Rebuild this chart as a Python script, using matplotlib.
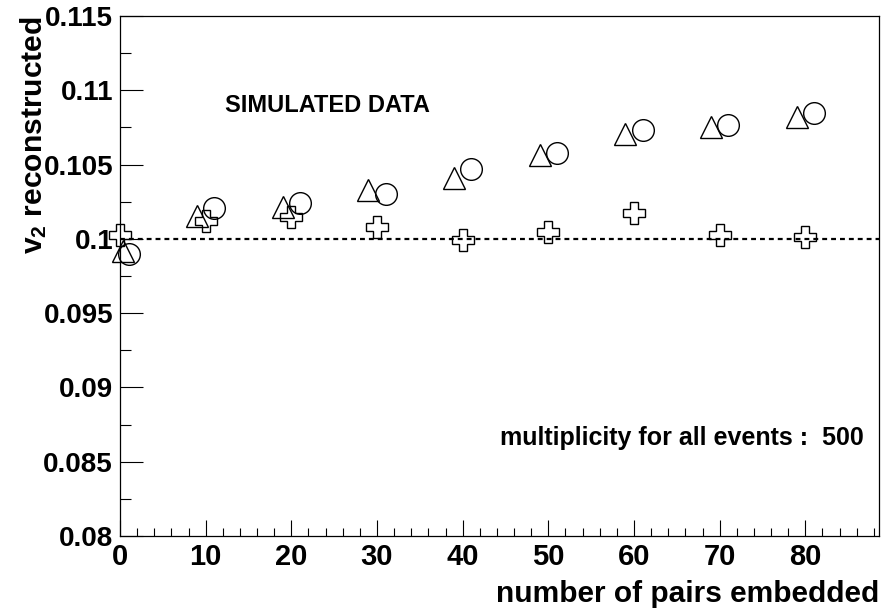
import numpy as np
import matplotlib
matplotlib.use('Agg')
import matplotlib.pyplot as plt


plt.rcParams['font.family'] = ['Liberation Sans', 'DejaVu Sans']
plt.rcParams['font.weight'] = 'bold'
plt.rcParams['mathtext.fontset'] = 'custom'
plt.rcParams['mathtext.rm'] = 'Liberation Sans:bold'
plt.rcParams['mathtext.it'] = 'Liberation Sans:bold'
plt.rcParams['mathtext.bf'] = 'Liberation Sans:bold'

#--data--#
npairs = [0, 10, 20, 30, 40, 50, 60, 70, 80]

# triangles (drawn 1 left of the nominal value)
tri_x = [0.4, 9, 19, 29, 39, 49, 59, 69, 79]
tri_v = [0.0992, 0.10154, 0.10215, 0.10326, 0.10412, 0.10563, 0.10703, 0.10753, 0.1082]

# circles (drawn 1 right of the nominal value)
circ_x = [1, 11, 21, 31, 41, 51, 61, 71, 81]
circ_v = [0.0990, 0.10208, 0.10238, 0.10305, 0.10469, 0.10578, 0.10731, 0.10769, 0.1085]

# open crosses
cross_x = npairs
cross_v = [0.10025, 0.10121, 0.10148, 0.10081, 0.09991, 0.10043, 0.10171, 0.10025, 0.1001]

v2_true = 0.1
xmin, xmax = 0, 88.6
ymin, ymax = 0.08, 0.115


fig = plt.figure(figsize=(8.85, 6.12), dpi=100)
ax = fig.add_axes([120/885, 1 - 536/612, 759/885, 520/612])

ax.plot([xmin, xmax], [v2_true, v2_true], color='black', lw=1.6,
        linestyle=(0, (2.2, 1.8)), zorder=1)

mk = dict(linestyle='none', mfc='none', mec='black', mew=1.0, clip_on=False, zorder=3)
ax.plot(tri_x, tri_v, marker='^', ms=16, **mk)
ax.plot(circ_x, circ_v, marker='o', ms=15.6, **mk)
ax.plot(cross_x, cross_v, marker='P', ms=16, **mk)

ax.set_xlim(xmin, xmax)
ax.set_ylim(ymin, ymax)

ax.set_xticks(np.arange(0, 81, 10))
ax.set_xticks(np.arange(0, 89, 2), minor=True)
ax.set_yticks(np.arange(0.08, 0.1151, 0.005))
ax.set_yticks(np.arange(0.08, 0.1151, 0.0025), minor=True)
ax.set_yticklabels(['0.08', '0.085', '0.09', '0.095', '0.1', '0.105', '0.11', '0.115'])
ax.set_xticklabels([str(v) for v in npairs])

ax.tick_params(axis='both', which='both', direction='in', width=0.8, top=False, right=False)
ax.tick_params(axis='x', which='major', length=11.2, pad=5, labelsize=21)
ax.tick_params(axis='x', which='minor', length=5.6)
ax.tick_params(axis='y', which='major', length=16.4, pad=5, labelsize=20)
ax.tick_params(axis='y', which='minor', length=8.2)
for t in ax.get_xticklabels() + ax.get_yticklabels():
    t.set_fontweight('bold')
for s in ax.spines.values():
    s.set_linewidth(0.9)

ax.set_xlabel('number of pairs embedded', loc='right', fontsize=21.5, fontweight='bold')
ax.xaxis.set_label_coords(1.0, -0.085)
ax.set_ylabel(r'$\mathrm{v_2}$ reconstructed', loc='top', fontsize=21.6, fontweight='bold')
ax.yaxis.set_label_coords(-0.094, 1.0)

ax.text(12.25, 0.10854, 'SIMULATED DATA', fontsize=17, fontweight='bold', va='baseline')
ax.text(44.4, 0.08612, 'multiplicity for all events :  500', fontsize=18,
        fontweight='bold', va='baseline')

fig.savefig('out.png', dpi=100, facecolor='white')
